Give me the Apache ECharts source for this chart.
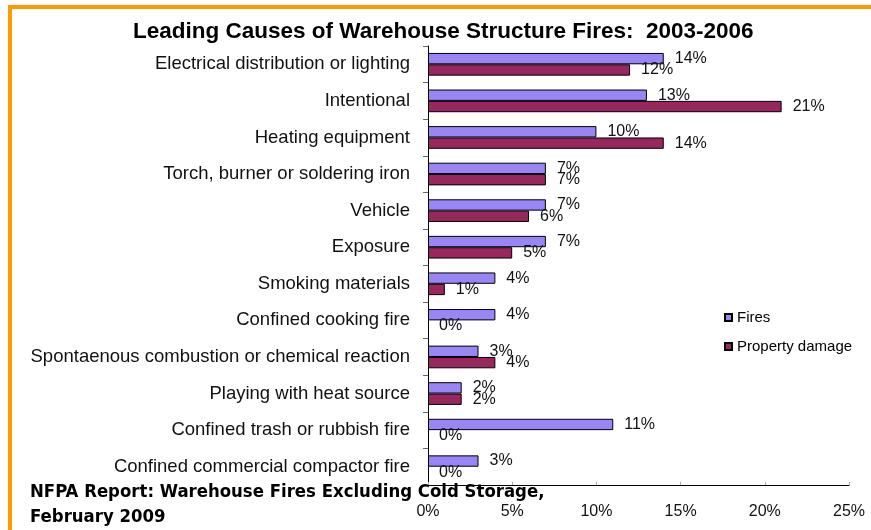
<!DOCTYPE html>
<html>
<head>
<meta charset="utf-8">
<script src="https://cdn.jsdelivr.net/npm/echarts@6/dist/echarts.min.js"></script>
<style>
html,body{margin:0;padding:0;background:#fff;}
#chart{width:871px;height:530px;}
</style>
</head>
<body>
<div id="chart"></div>
<script>
var categories = [
  'Electrical distribution or lighting',
  'Intentional',
  'Heating equipment',
  'Torch, burner or soldering iron',
  'Vehicle',
  'Exposure',
  'Smoking materials',
  'Confined cooking fire',
  'Spontaenous combustion or chemical reaction',
  'Playing with heat source',
  'Confined trash or rubbish fire',
  'Confined commercial compactor fire'
];
var fires = [14, 13, 10, 7, 7, 7, 4, 4, 3, 2, 11, 3];
var propertyDamage = [12, 21, 14, 7, 6, 5, 1, 0, 4, 2, 0, 0];
var xTicks = [0, 5, 10, 15, 20, 25];

function toItems(arr) {
  return arr.map(function (v) {
    return v === 0 ? {value: v, itemStyle: {borderWidth: 0}} : v;
  });
}

var chart = echarts.init(document.getElementById('chart'));
var baseFont = 'Liberation Sans, Arial, sans-serif';
var footFont = 'bold 18.4px "DejaVu Sans Condensed", "Liberation Sans", sans-serif';
var labelCfg = {
  show: true,
  position: 'right',
  distance: 11,
  formatter: '{c}%',
  fontSize: 16,
  fontFamily: baseFont,
  color: '#111'
};
chart.setOption({
  animation: false,
  backgroundColor: '#fff',
  title: {
    text: 'Leading Causes of Warehouse Structure Fires:  2003-2006',
    left: 128,
    top: 15,
    textStyle: {fontSize: 22.5, fontWeight: 'bold', fontFamily: baseFont, color: '#000'}
  },
  legend: {
    orient: 'vertical',
    left: 719,
    top: 305,
    itemWidth: 7,
    itemHeight: 7,
    itemGap: 14,
    icon: 'rect',
    textStyle: {fontSize: 15, fontFamily: baseFont, color: '#000'},
    data: ['Fires', 'Property damage']
  },
  grid: {left: 428, right: 22, top: 46, bottom: 45, containLabel: false},
  xAxis: {
    type: 'value',
    min: xTicks[0],
    max: xTicks[xTicks.length - 1],
    interval: 5,
    splitLine: {show: false},
    axisLine: {show: true, lineStyle: {color: '#000', width: 1}},
    axisTick: {show: true, inside: true, length: 3, lineStyle: {color: '#aaa'}},
    axisLabel: {formatter: '{value}%', fontSize: 16, margin: 19, color: '#111', fontFamily: baseFont}
  },
  yAxis: {
    type: 'category',
    inverse: true,
    data: categories,
    axisLine: {show: true, lineStyle: {color: '#000', width: 1}},
    axisTick: {show: true, length: 5, lineStyle: {color: '#666'}},
    axisLabel: {fontSize: 18.5, margin: 18, color: '#111', fontFamily: baseFont}
  },
  series: [
    {
      name: 'Fires',
      type: 'bar',
      data: toItems(fires),
      barGap: '0%',
      barCategoryGap: '38%',
      itemStyle: {color: '#9985f5', borderColor: '#000', borderWidth: 1},
      label: labelCfg
    },
    {
      name: 'Property damage',
      type: 'bar',
      data: toItems(propertyDamage),
      barGap: '0%',
      barCategoryGap: '38%',
      itemStyle: {color: '#97275d', borderColor: '#000', borderWidth: 1},
      label: labelCfg
    }
  ],
  graphic: [
    {type: 'rect', shape: {x: 8, y: 5, width: 4, height: 530}, style: {fill: '#ff9900'}, silent: true},
    {type: 'rect', shape: {x: 8, y: 5, width: 871, height: 4}, style: {fill: '#ff9900'}, silent: true},
    {type: 'text', x: 30, y: 492, style: {text: 'NFPA Report: Warehouse Fires Excluding Cold Storage,', font: footFont, fill: '#000', textVerticalAlign: 'middle'}, z: 100},
    {type: 'text', x: 30, y: 517, style: {text: 'February 2009', font: footFont, fill: '#000', textVerticalAlign: 'middle'}, z: 100}
  ]
});
</script>
</body>
</html>
